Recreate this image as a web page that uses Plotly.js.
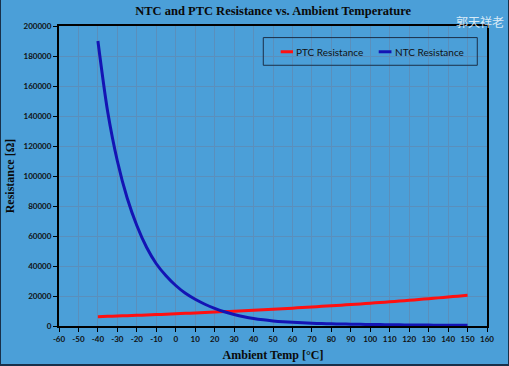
<!DOCTYPE html>
<html>
<head>
<meta charset="utf-8">
<script src="https://cdn.plot.ly/plotly-3.0.1.min.js"></script>
<style>
html,body{margin:0;padding:0;background:#4b9fd8;}
#wrap{position:relative;width:509px;height:366px;}
#chart{position:absolute;left:0;top:0;width:509px;height:366px;}
#frame{position:absolute;left:0;top:0;width:509px;height:366px;box-sizing:border-box;border-left:1px solid #18304a;border-right:1px solid #18304a;border-bottom:2px solid #18304a;pointer-events:none;}
</style>
</head>
<body>
<div id="wrap"><div id="chart"></div><div id="frame"></div></div>
<script>
// Data
const temps = [-40,-35,-30,-25,-20,-15,-10,-5,0,5,10,15,20,25,30,35,40,45,50,55,60,65,70,75,80,85,90,95,100,105,110,115,120,125,130,135,140,145,150];
const ntcRes = [190000,143000,110000,85500,67000,52500,41500,33500,27000,21800,17800,14500,11800,9500,7700,6200,5000,4100,3400,2850,2450,2100,1850,1650,1480,1340,1220,1110,1010,920,840,770,700,640,590,540,500,460,420];
const ptcRes = [6200,6420,6650,6870,7100,7350,7600,7870,8150,8420,8700,9000,9300,9600,9900,10200,10500,10850,11200,11550,11900,12300,12700,13100,13500,13900,14300,14750,15200,15650,16100,16600,17100,17650,18200,18750,19300,19900,20500];
const seriesNames = ["PTC Resistance", "NTC Resistance"];
const xTicks = [-60,-50,-40,-30,-20,-10,0,10,20,30,40,50,60,70,80,90,100,110,120,130,140,150,160];
const yTicks = [0,20000,40000,60000,80000,100000,120000,140000,160000,180000,200000];

const traces = [
  {x: temps, y: ptcRes, name: seriesNames[0], type: 'scatter', mode: 'lines',
   line: {color: '#ff1010', width: 3, shape: 'spline', smoothing: 0.8}},
  {x: temps, y: ntcRes, name: seriesNames[1], type: 'scatter', mode: 'lines',
   line: {color: '#1414b4', width: 3, shape: 'spline', smoothing: 0.8}}
];

const axisFont = {family: 'Lato, "Liberation Sans", sans-serif', size: 8, color: '#111', weight: 'bold'};
const layout = {
  width: 509, height: 366,
  margin: {l: 59, r: 22, t: 26, b: 40},
  paper_bgcolor: '#4b9fd8',
  plot_bgcolor: '#4b9fd8',
  showlegend: false,
  title: {text: 'NTC and PTC Resistance vs. Ambient Temperature',
    font: {family: '"Liberation Serif", serif', size: 12.5, color: '#0a0a0a', weight: 'bold'},
    x: 0.5366, xanchor: 'center', y: 0.972, yanchor: 'middle'},
  xaxis: {
    range: [-60, 160], tickvals: xTicks, ticktext: xTicks.map(String),
    showgrid: true, gridcolor: '#5a8fbc', gridwidth: 1, zeroline: false,
    showline: true, linecolor: '#000', linewidth: 2, mirror: true,
    ticks: 'outside', ticklen: 4, tickcolor: '#000', tickwidth: 1,
    tickfont: axisFont,
    title: {text: 'Ambient Temp [°C]', standoff: 8,
      font: {family: '"Liberation Serif", serif', size: 12, color: '#0a0a0a', weight: 'bold'}}
  },
  yaxis: {
    range: [0, 200000], tickvals: yTicks, ticktext: yTicks.map(String),
    showgrid: true, gridcolor: '#5a8fbc', gridwidth: 1, zeroline: false,
    showline: true, linecolor: '#000', linewidth: 2, mirror: true,
    ticks: 'outside', ticklen: 4, tickcolor: '#000', tickwidth: 1,
    tickfont: axisFont,
    title: {text: 'Resistance [Ω]', standoff: 6,
      font: {family: '"Liberation Serif", serif', size: 12, color: '#0a0a0a', weight: 'bold'}}
  },
  shapes: [
    {type: 'rect', xref: 'paper', yref: 'paper', x0: 0.4773, x1: 0.9773, y0: 0.8691, y1: 0.9614,
     line: {color: '#1b2f48', width: 1}, fillcolor: 'rgba(0,0,0,0)'},
    {type: 'line', xref: 'paper', yref: 'paper', x0: 0.518, x1: 0.5467, y0: 0.9141, y1: 0.9141,
     line: {color: '#ff1010', width: 3}},
    {type: 'line', xref: 'paper', yref: 'paper', x0: 0.747, x1: 0.7768, y0: 0.9141, y1: 0.9141,
     line: {color: '#1414b4', width: 3}}
  ],
  annotations: [
    {text: seriesNames[0], xref: 'paper', yref: 'paper', x: 0.549, y: 0.9141, xanchor: 'left', yanchor: 'middle',
     showarrow: false, font: {family: 'Lato, sans-serif', size: 10, color: '#111'}},
    {text: seriesNames[1], xref: 'paper', yref: 'paper', x: 0.7797, y: 0.9141, xanchor: 'left', yanchor: 'middle',
     showarrow: false, font: {family: 'Lato, sans-serif', size: 10, color: '#111'}},
    {text: '郭天祥老', xref: 'paper', yref: 'paper', x: 0.922, y: 1.016, xanchor: 'left', yanchor: 'middle',
     showarrow: false, font: {family: '"Noto Sans CJK SC", sans-serif', size: 12, color: 'rgba(255,255,255,0.8)'}}
  ]
};

Plotly.newPlot('chart', traces, layout, {displayModeBar: false, staticPlot: true});
</script>
</body>
</html>
